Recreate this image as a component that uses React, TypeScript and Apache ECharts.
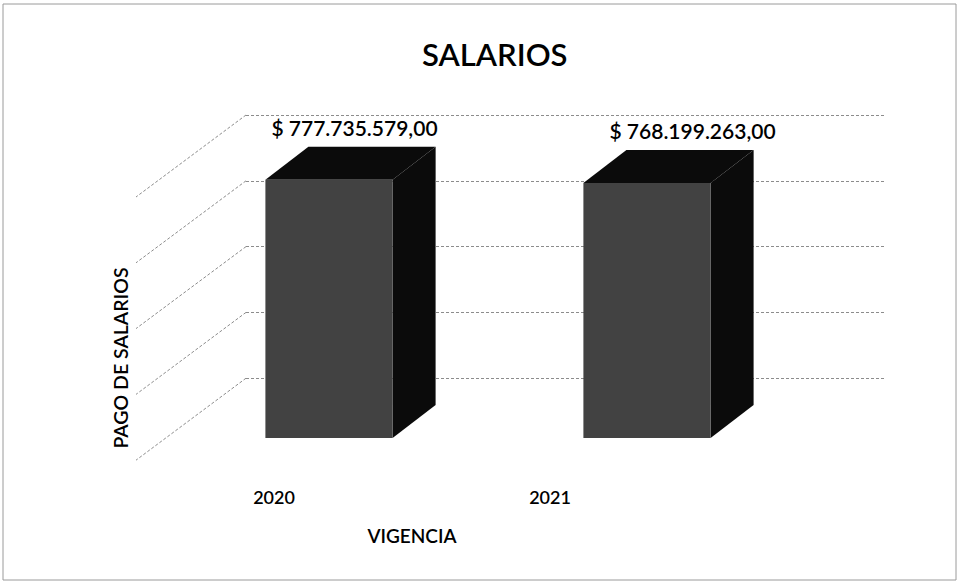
import React, { useEffect, useRef } from "react";
import * as echarts from "echarts";

const categories = ["2020", "2021"];
const salaries = [777735579, 768199263];
const wallTicks = [200000000, 400000000, 600000000, 800000000, 1000000000];
const chartTitle = "SALARIOS";
const xAxisName = "VIGENCIA";
const yAxisName = "PAGO DE SALARIOS";

const FONT = "Lato, 'Open Sans', sans-serif";
const WEIGHT = 600;
const DEPTH_X = 43;
const DEPTH_Y = -33;
const WALL_DX = -110;
const WALL_DY = 82;

function formatCOP(v: number): string {
  const parts = v.toFixed(2).split(".");
  const intPart = parts[0].replace(/\B(?=(\d{3})+(?!\d))/g, ".");
  return "$ " + intPart + "," + parts[1];
}

export default function App() {
  const ref = useRef<HTMLDivElement>(null);

  useEffect(() => {
    if (!ref.current) return;
    const chart = echarts.init(ref.current, undefined, { renderer: "svg" });

    const option: any = {
      animation: false,
      backgroundColor: "#ffffff",
      title: {
        text: chartTitle,
        left: 417,
        top: 33,
        textStyle: { fontFamily: FONT, fontSize: 31, fontWeight: WEIGHT, color: "#000" },
      },
      graphic: [
        {
          type: "rect",
          shape: { x: 3, y: 4, width: 953, height: 576 },
          style: { fill: "none", stroke: "#9a9a9a", lineWidth: 1 },
          silent: true,
          z: -10,
        },
      ],
      grid: [
        { left: 246, right: 75, top: 115, bottom: 142 },
        { left: 170, right: 154, top: 106, bottom: 148 },
        { left: 136, right: 272, top: 268, bottom: 138 },
      ],
      xAxis: [
        { gridIndex: 0, type: "category", data: categories, show: false },
        { gridIndex: 1, type: "category", data: categories, show: false },
        {
          gridIndex: 2,
          type: "category",
          data: categories,
          axisLine: { show: false },
          axisTick: { show: false },
          axisLabel: { margin: 40, fontSize: 18, color: "#000", fontFamily: FONT, fontWeight: WEIGHT },
          name: xAxisName,
          nameLocation: "middle",
          nameGap: 78,
          nameTextStyle: { fontSize: 19, color: "#000", fontFamily: FONT, fontWeight: WEIGHT },
        },
      ],
      yAxis: [
        {
          gridIndex: 0,
          type: "value",
          min: 0,
          max: 1000000000,
          interval: 200000000,
          axisLine: { show: false },
          axisTick: { show: false },
          axisLabel: { show: false },
          splitLine: {
            show: true,
            showMinLine: false,
            lineStyle: { color: "#8c8c8c", width: 1, type: [3, 2] },
          },
        },
        { gridIndex: 1, type: "value", min: 0, max: 1000000000, show: false },
        {
          gridIndex: 2,
          type: "value",
          min: 0,
          max: 1,
          axisLine: { show: false },
          axisTick: { show: false },
          axisLabel: { show: false },
          splitLine: { show: false },
          name: yAxisName,
          nameLocation: "middle",
          nameGap: 6,
          nameRotate: 90,
          nameTextStyle: { fontSize: 19.5, color: "#000", fontFamily: FONT, fontWeight: WEIGHT },
        },
      ],
      series: [
        {
          type: "custom",
          name: "walls",
          xAxisIndex: 0,
          yAxisIndex: 0,
          silent: true,
          data: wallTicks.map((v) => [0, v]),
          encode: { x: 0, y: 1 },
          renderItem: (params: any, api: any) => {
            const y = api.coord([0, api.value(1)])[1];
            const left = params.coordSys.x;
            return {
              type: "line",
              shape: { x1: left, y1: y, x2: left + WALL_DX, y2: y + WALL_DY },
              style: { stroke: "#8c8c8c", lineWidth: 1, lineDash: [3, 2] },
            };
          },
          z: 1,
        },
        {
          type: "custom",
          name: "Pago de salarios",
          xAxisIndex: 1,
          yAxisIndex: 1,
          data: salaries.map((v, i) => [i, v]),
          encode: { x: 0, y: 1 },
          renderItem: (params: any, api: any) => {
            const idx = api.value(0);
            const val = api.value(1);
            const top = api.coord([idx, val]);
            const base = api.coord([idx, 0]);
            const bw = api.size([1, 0])[0] * 0.4;
            const l = top[0] - bw / 2;
            const r = top[0] + bw / 2;
            const t = top[1];
            const b = base[1];
            const labelShift = 35 + 0.063 * (top[0] - 480);
            return {
              type: "group",
              children: [
                {
                  type: "polygon",
                  shape: {
                    points: [
                      [r, t],
                      [r + DEPTH_X, t + DEPTH_Y],
                      [r + DEPTH_X, b + DEPTH_Y],
                      [r, b],
                    ],
                  },
                  style: { fill: "#0b0b0b" },
                },
                {
                  type: "polygon",
                  shape: {
                    points: [
                      [l, t],
                      [l + DEPTH_X, t + DEPTH_Y],
                      [r + DEPTH_X, t + DEPTH_Y],
                      [r, t],
                    ],
                  },
                  style: { fill: "#0b0b0b" },
                },
                {
                  type: "rect",
                  shape: { x: l, y: t, width: r - l, height: b - t },
                  style: { fill: "#424242" },
                },
                {
                  type: "text",
                  x: top[0] + labelShift,
                  y: t + DEPTH_Y - 19,
                  style: {
                    text: formatCOP(val),
                    fontFamily: FONT,
                    fontSize: 21,
                    fontWeight: WEIGHT,
                    fill: "#000",
                    align: "center",
                    verticalAlign: "middle",
                  },
                },
              ],
            };
          },
          z: 5,
        },
      ],
    };

    chart.setOption(option);
    return () => chart.dispose();
  }, []);

  return (
    <div
      ref={ref}
      style={{ position: "fixed", left: 0, top: 0, width: 960, height: 586 }}
    />
  );
}
